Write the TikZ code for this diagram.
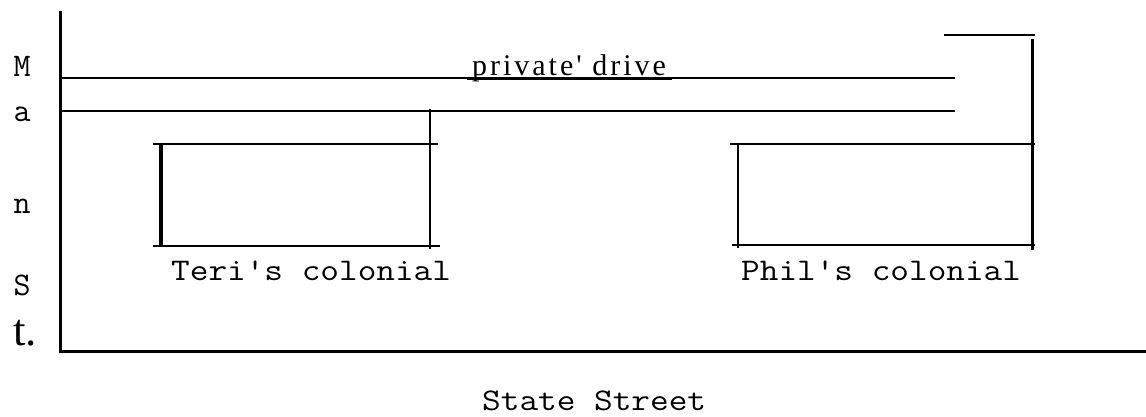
\documentclass[tikz,border=0pt]{standalone}
\usepackage{fontspec}
\setmainfont{Liberation Serif}
\newfontfamily\drivefont[LetterSpace=10]{Liberation Serif}
\tikzset{
  thinline/.style={line width=1.8pt},
  thickline/.style={line width=3pt},
  monolabel/.style={inner sep=0pt, anchor=base west, text depth=0pt, font=\ttfamily\fontsize{31.5}{31.5}\selectfont},
  sidelabel/.style={inner sep=0pt, anchor=base, font=\ttfamily\fontsize{33}{33}\selectfont},
}
\newcommand{\widetext}[1]{\scalebox{1.15}[1]{#1}}
\begin{document}
\begin{tikzpicture}[x=1pt,y=-1pt]
\useasboundingbox (0,0) rectangle (1146,416);
% Main St. and State St.
\coordinate (mtop) at (60,11);
\coordinate (corner) at (60,351);
\coordinate (sright) at (1146,351);
\draw[thickline] (mtop) -- (corner) -- (sright);
% private drive
\coordinate (d1a) at (59,78); \coordinate (d1b) at (955,78);
\coordinate (d2a) at (60,111); \coordinate (d2b) at (955,111);
\draw[thinline] (d1a) -- (d1b);
\draw[thinline] (d2a) -- (d2b);
\node[inner sep=0pt, anchor=base, font=\drivefont\fontsize{30}{30}\selectfont] (drive) at (569,75) {private' drive};
\coordinate (ula) at (467,78); \coordinate (ulb) at (672,78);
\draw[line width=3pt] (ula) -- (ulb);
% top short line
\coordinate (ta) at (944,35); \coordinate (tb) at (1035,35);
\draw[thinline] (ta) -- (tb);
% Teri's colonial
\coordinate (t1) at (153,144); \coordinate (t2) at (438,144);
\coordinate (t3) at (153,246); \coordinate (t4) at (440,246);
\coordinate (tl1) at (161,144); \coordinate (tl2) at (161,247);
\coordinate (tr1) at (430,109); \coordinate (tr2) at (430,249);
\draw[thinline] (t1) -- (t2);
\draw[thinline] (t3) -- (t4);
\draw[line width=4pt] (tl1) -- (tl2);
\draw[thinline] (tr1) -- (tr2);
% Phil's colonial
\coordinate (p1) at (730,144); \coordinate (p2) at (1035,144);
\coordinate (p3) at (732,245); \coordinate (p4) at (1035,245);
\coordinate (pl1) at (738,143); \coordinate (pl2) at (738,248);
\coordinate (pr1) at (1032,39); \coordinate (pr2) at (1032,250);
\draw[thinline] (p1) -- (p2);
\draw[thinline] (p3) -- (p4);
\draw[thinline] (pl1) -- (pl2);
\draw[thickline] (pr1) -- (pr2);
% labels
\node[monolabel] (teri) at (171,280) {\widetext{Teri's colonial}};
\node[monolabel] (phil) at (741,280) {\widetext{Phil's colonial}};
\node[monolabel] (state) at (482,410) {\widetext{State Street}};
\node[sidelabel] (lM) at (22,76) {M};
\node[sidelabel] (la) at (22,121) {a};
\node[sidelabel] (ln) at (22,213) {n};
\node[sidelabel] (lS) at (22,295) {S};
\node[inner sep=0pt, anchor=base, font=\fontsize{45}{45}\selectfont] (lt) at (25,345) {t.};
\end{tikzpicture}
\end{document}
